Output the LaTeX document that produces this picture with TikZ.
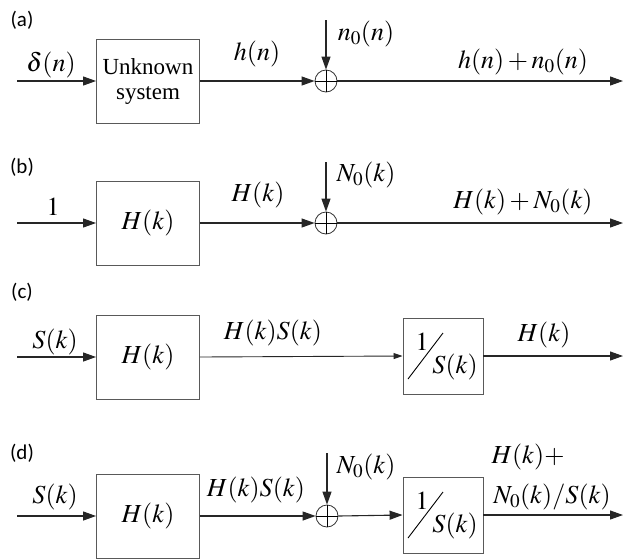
\documentclass[tikz,border=0pt]{standalone}
\usepackage{mathptmx}
\usepackage{fontspec}
\setmainfont{Liberation Serif}
\newfontfamily\boxfont{Liberation Serif}
\newfontfamily\tagfont{Carlito}
\usetikzlibrary{arrows.meta}

\begin{document}
\begin{tikzpicture}[x=1pt, y=-1pt,
        blk/.style={draw=black!65, line width=0.9pt, minimum width=103pt, minimum height=84pt,
            inner sep=0pt, align=center, font=\boxfont\fontsize{23}{25}\selectfont},
        inv/.style={draw=black!65, line width=0.9pt, minimum width=80pt, minimum height=76pt, inner sep=0pt},
        sum/.style={draw=black!80, circle, line width=0.8pt, minimum size=22pt, inner sep=0pt},
        sig/.style={-{Triangle[length=13pt,width=9pt]}, line width=1.1pt, black!85},
        lbl/.style={inner sep=0pt, font=\fontsize{26}{30}\selectfont},
        tag/.style={inner sep=0pt, font=\tagfont\fontsize{21}{24}\selectfont}
    ]
        \useasboundingbox (0,0) rectangle (624,558);
        % (a)
        \node[tag] (ta) at (22,20) {(a)};
        \coordinate (ina) at (17,81);
        \node[blk] (ba) at (148,81) {Unknown\\system};
        \node[sum] (sa) at (326,81) {};
        \coordinate (noa) at (326,20);
        \coordinate (outa) at (623,81);
        \draw[sig] (ina) -- (ba.west);
        \draw[sig] (ba.east) -- (sa.west);
        \draw[sig] (noa) -- (sa.north);
        \draw[sig] (sa.east) -- (outa);
        \draw[line width=0.6pt] (sa.north) -- (sa.south) (sa.west) -- (sa.east);
        \node[lbl] (la1) at (51,65) {$\delta(n)$};
        \node[lbl] (la2) at (257,54) {$h(n)$};
        \node[lbl] (la3) at (366,34) {$n_0(n)$};
        \node[lbl] (la4) at (523,62) {$h(n)+n_0(n)$};
        % (b)
        \node[tag] (tb) at (22,167) {(b)};
        \coordinate (inb) at (17,223);
        \node[blk, font=\fontsize{26}{30}\selectfont] (bb) at (148,223) {$H(k)$};
        \node[sum] (sb) at (326,223) {};
        \coordinate (nob) at (326,162);
        \coordinate (outb) at (623,223);
        \draw[sig] (inb) -- (bb.west);
        \draw[sig] (bb.east) -- (sb.west);
        \draw[sig] (nob) -- (sb.north);
        \draw[sig] (sb.east) -- (outb);
        \draw[line width=0.6pt] (sb.north) -- (sb.south) (sb.west) -- (sb.east);
        \node[lbl] (lb1) at (53,207) {$1$};
        \node[lbl] (lb2) at (258,195) {$H(k)$};
        \node[lbl] (lb3) at (366,175) {$N_0(k)$};
        \node[lbl] (lb4) at (523,202) {$H(k)+N_0(k)$};
        % (c)
        \node[tag] (tc) at (22,292) {(c)};
        \coordinate (inc) at (17,357);
        \node[blk, font=\fontsize{26}{30}\selectfont] (bc) at (148,357) {$H(k)$};
        \node[inv] (ic) at (443,356) {};
        \coordinate (outc) at (623,356);
        \draw[sig] (inc) -- (bc.west);
        \draw[-{Triangle[length=9pt,width=6pt]}, line width=0.9pt, black!85] (bc.east) -- (ic.west);
        \draw[sig] (ic.east) -- (outc);
        \draw[line width=0.9pt] ([shift={(-35,23)}]ic.center) -- ([shift={(0,-23)}]ic.center);
        \node[lbl] (ic1) at ([shift={(-21,-14)}]ic.center) {$1$};
        \node[lbl] (ic2) at ([shift={(12,11)}]ic.center) {$S(k)$};
        \node[lbl] (lc1) at (55,342) {$S(k)$};
        \node[lbl] (lc2) at (273,333) {$H(k)S(k)$};
        \node[lbl] (lc3) at (544,335) {$H(k)$};
        % (d)
        \node[tag] (td) at (22,453) {(d)};
        \coordinate (ind) at (17,516);
        \node[blk, font=\fontsize{26}{30}\selectfont] (bd) at (148,516) {$H(k)$};
        \node[sum] (sd) at (327,516) {};
        \coordinate (nod) at (327,453);
        \node[inv] (id) at (443,515) {};
        \coordinate (outd) at (623,515);
        \draw[sig] (ind) -- (bd.west);
        \draw[sig] (bd.east) -- (sd.west);
        \draw[sig] (nod) -- (sd.north);
        \draw[sig] (sd.east) -- (id.west);
        \draw[sig] (id.east) -- (outd);
        \draw[line width=0.6pt] (sd.north) -- (sd.south) (sd.west) -- (sd.east);
        \draw[line width=0.9pt] ([shift={(-35,23)}]id.center) -- ([shift={(0,-23)}]id.center);
        \node[lbl] (id1) at ([shift={(-21,-14)}]id.center) {$1$};
        \node[lbl] (id2) at ([shift={(12,11)}]id.center) {$S(k)$};
        \node[lbl] (ld1) at (55,497) {$S(k)$};
        \node[lbl] (ld2) at (256,490) {$H(k)S(k)$};
        \node[lbl] (ld3) at (366,467) {$N_0(k)$};
        \node[lbl] (ld4) at (528,457) {$H(k)+$};
        \node[lbl] (ld5) at (552,497) {$N_0(k)/S(k)$};
    \end{tikzpicture}
\end{document}
